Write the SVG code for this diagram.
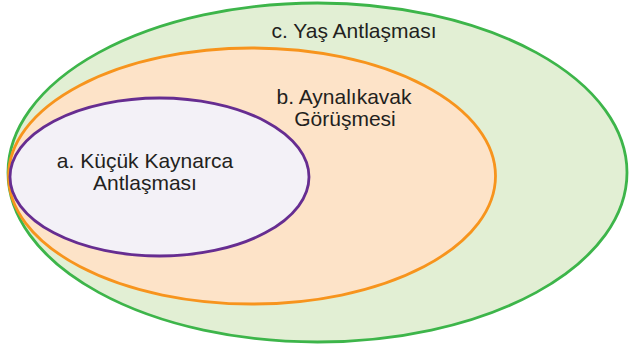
<svg xmlns="http://www.w3.org/2000/svg" width="629" height="346" viewBox="0 0 629 346">
<style>
.lbl{font-family:"Liberation Sans",Arial,sans-serif;font-size:21px;fill:#231f20;text-anchor:middle}
.e{stroke-width:2.8}
</style>
<rect width="629" height="346" fill="#ffffff"/>
<g id="node-c">
<ellipse class="e" cx="317.5" cy="172.5" rx="309.5" ry="169.5" fill="#e2efd4" stroke="#3db54a"/>
<text class="lbl" x="354" y="38">c. Yaş Antlaşması</text>
</g>
<g id="node-b">
<ellipse class="e" cx="252" cy="176" rx="243.5" ry="128" fill="#fde3c8" stroke="#f7941d"/>
<text class="lbl" x="344" y="104">b. Aynalıkavak</text>
<text class="lbl" x="345" y="126">Görüşmesi</text>
</g>
<g id="node-a">
<ellipse class="e" cx="159.5" cy="177" rx="149.5" ry="79" fill="#f3f1f7" stroke="#662d91"/>
<text class="lbl" x="145" y="168">a. Küçük Kaynarca</text>
<text class="lbl" x="145" y="190">Antlaşması</text>
</g>
<g id="connectors"></g>
</svg>
